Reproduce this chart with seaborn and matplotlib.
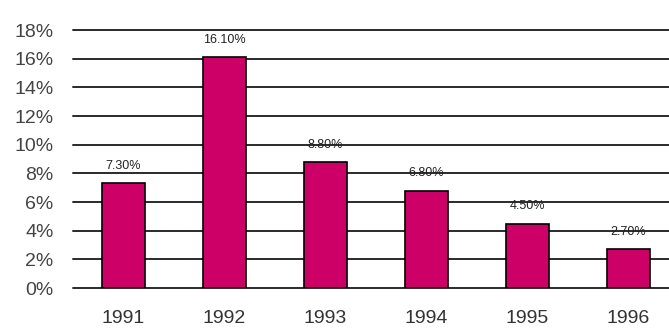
import matplotlib
matplotlib.use("Agg")
import matplotlib.pyplot as plt
import seaborn as sns
import pandas as pd

years = ["1991", "1992", "1993", "1994", "1995", "1996"]
rates = [7.3, 16.1, 8.8, 6.8, 4.5, 2.7]
value_labels = ["7.30%", "16.10%", "8.80%", "6.80%", "4.50%", "2.70%"]
y_ticks = [0, 2, 4, 6, 8, 10, 12, 14, 16, 18]
y_tick_labels = ["0%", "2%", "4%", "6%", "8%", "10%", "12%", "14%", "16%", "18%"]

sns.set_style("white")
plt.rcParams["font.family"] = ["Liberation Sans", "DejaVu Sans"]

df = pd.DataFrame({"year": years, "rate": rates})

fig = plt.figure(figsize=(6.69, 3.32), dpi=100)
ax = fig.add_axes([0.109, 0.1325, 0.891, 0.777])

ax.set_axisbelow(True)
for t in y_ticks:
    ax.axhline(t, color="#2a2a2a", lw=1.4, zorder=0, clip_on=False)

sns.barplot(data=df, x="year", y="rate", color="#cc0066", saturation=1,
            width=0.42, edgecolor="black", linewidth=1.2, ax=ax, zorder=2)

for i, (v, lab) in enumerate(zip(rates, value_labels)):
    ax.annotate(lab, (i, v), xytext=(0, 8), textcoords="offset points",
                ha="center", va="bottom", fontsize=9, color="#222222")

ax.set_xlim(-0.5, 5.4)
ax.set_ylim(0, 18)
ax.set_yticks(y_ticks)
ax.set_yticklabels(y_tick_labels, fontsize=14, color="#444444")
ax.tick_params(axis="y", length=0, pad=14)
ax.tick_params(axis="x", length=0, pad=16, labelsize=14, labelcolor="#333333")
ax.set_xlabel("")
ax.set_ylabel("")
for s in ax.spines.values():
    s.set_visible(False)

fig.savefig("out.png", dpi=100)
